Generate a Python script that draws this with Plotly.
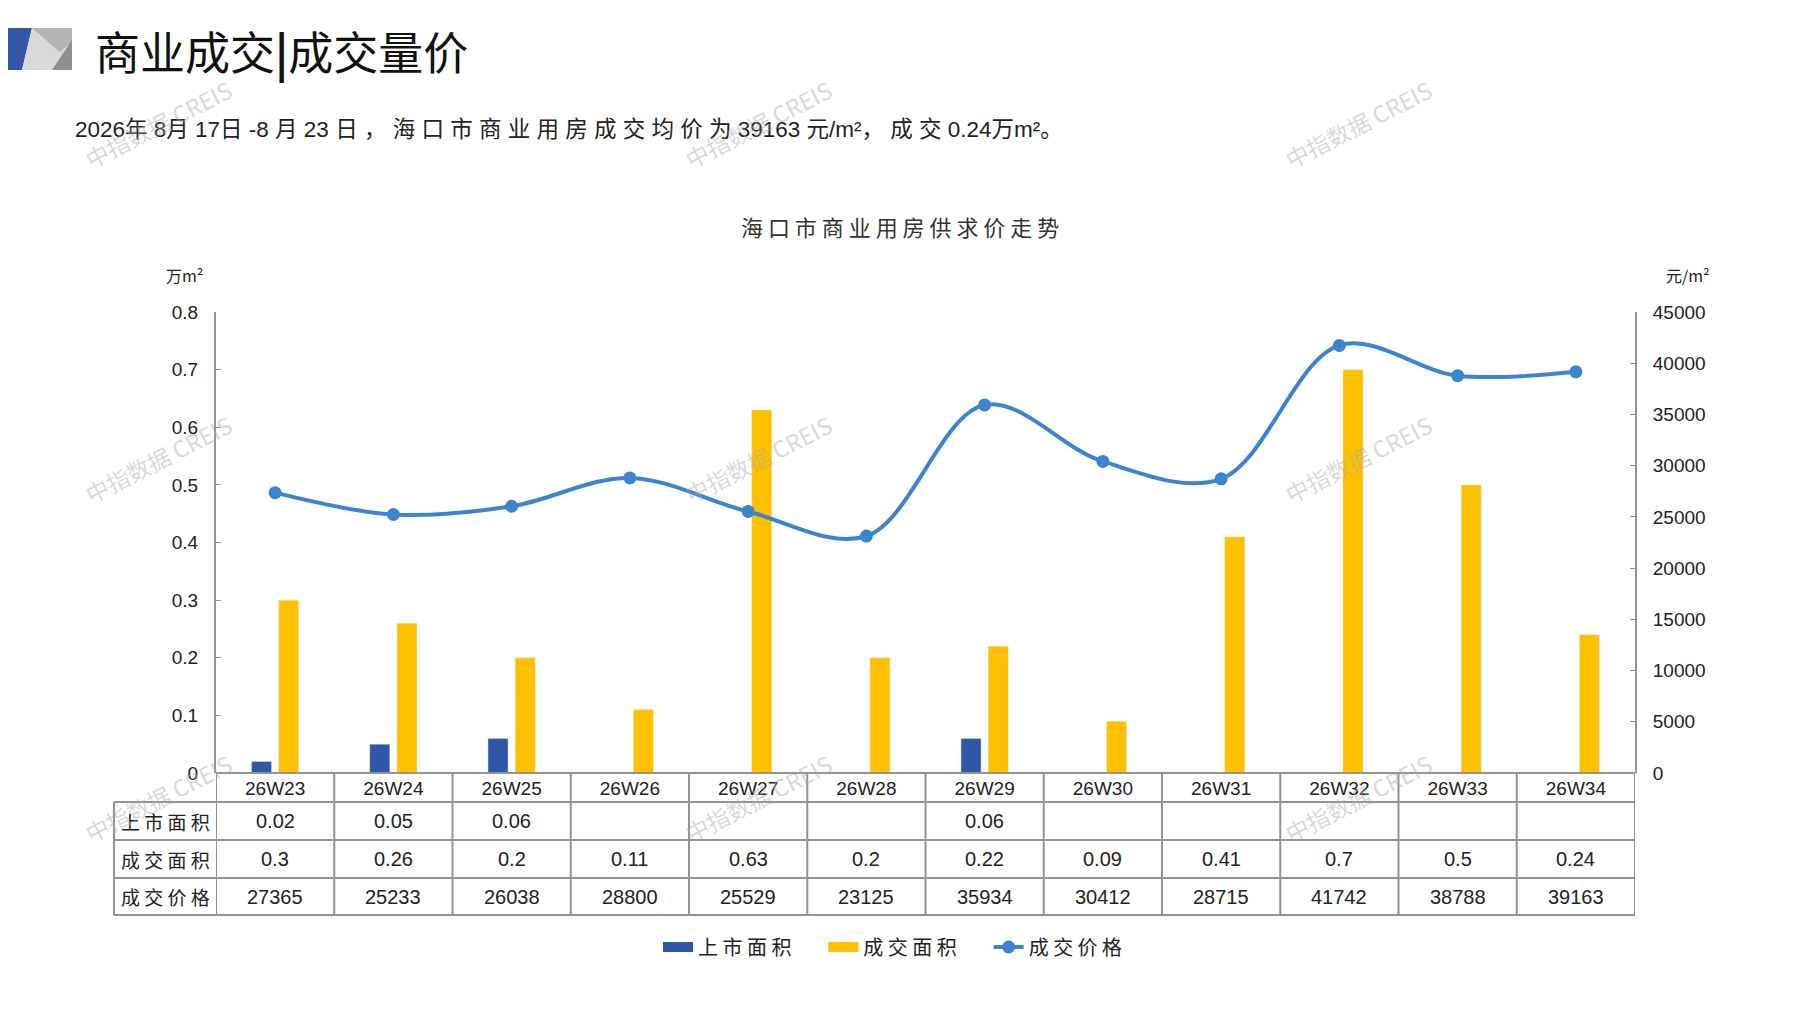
import plotly.graph_objects as go

# data
weeks = ["26W23", "26W24", "26W25", "26W26", "26W27", "26W28",
         "26W29", "26W30", "26W31", "26W32", "26W33", "26W34"]
supply_area = [0.02, 0.05, 0.06, None, None, None, 0.06, None, None, None, None, None]
deal_area = [0.3, 0.26, 0.2, 0.11, 0.63, 0.2, 0.22, 0.09, 0.41, 0.7, 0.5, 0.24]
deal_price = [27365, 25233, 26038, 28800, 25529, 23125, 35934, 30412, 28715, 41742, 38788, 39163]
row_names = ["上市面积", "成交面积", "成交价格"]
left_ticks = [0, 0.1, 0.2, 0.3, 0.4, 0.5, 0.6, 0.7, 0.8]
left_ticktext = ["0", "0.1", "0.2", "0.3", "0.4", "0.5", "0.6", "0.7", "0.8"]
right_ticks = [0, 5000, 10000, 15000, 20000, 25000, 30000, 35000, 40000, 45000]

BLUE = "#2F57A5"
YELLOW = "#FFC000"
LINE = "#3D84CF"
GRID = "#939393"
CJK = "Noto Sans CJK SC"
NUM = "Liberation Sans, Noto Sans CJK SC"

W, H = 1797, 1010
OFF = 8  # page body margin
L, R, T, B = 216 - OFF, 1797 - 1635 + OFF, 312 - OFF, 1010 - 773 + OFF
PW, PH = W - L - R, H - T - B


def px(x):
    # x measured on the screenshot -> paper
    return (x - OFF - L) / PW


def py(y):
    return (H - B - (y - OFF)) / PH


def spaced(s):
    return " ".join(s)


def note(x, y, text, size, family=CJK, color="#222", xanchor="center", **kw):
    return dict(x=px(x), y=py(y), xref="paper", yref="paper", text=text, showarrow=False,
                xanchor=xanchor, yanchor="middle",
                font=dict(family=family, size=size, color=color), **kw)


fig = go.Figure()
fig.add_trace(go.Bar(x=weeks, y=supply_area, name=spaced("上市面积"),
                     marker_color=BLUE, yaxis="y", showlegend=False))
fig.add_trace(go.Bar(x=weeks, y=deal_area, name=spaced("成交面积"),
                     marker_color=YELLOW, yaxis="y", showlegend=False))
# wide legend swatches for the bars
fig.add_trace(go.Scatter(x=[None], y=[None], mode="lines", name=spaced("上市面积") + "      ",
                         line=dict(color=BLUE, width=13)))
fig.add_trace(go.Scatter(x=[None], y=[None], mode="lines", name=spaced("成交面积") + "      ",
                         line=dict(color=YELLOW, width=13)))
fig.add_trace(go.Scatter(x=weeks, y=deal_price, name=spaced("成交价格"),
                         mode="lines+markers", yaxis="y2",
                         line=dict(color=LINE, width=4, shape="spline", smoothing=1.0),
                         marker=dict(color=LINE, size=13)))

# table under the plot
row_top = [802, 840, 878]
row_bot = [840, 878, 915]
shapes = []
for y in [802, 840, 878, 915]:
    shapes.append(dict(type="line", xref="paper", yref="paper", x0=px(114), x1=1,
                       y0=py(y), y1=py(y), line=dict(color=GRID, width=2)))
shapes.append(dict(type="line", xref="paper", yref="paper", x0=px(114), x1=px(114),
                   y0=py(802), y1=py(915), line=dict(color=GRID, width=2)))
for i in range(len(weeks) + 1):
    shapes.append(dict(type="line", xref="x", yref="paper", x0=i - 0.5, x1=i - 0.5,
                       y0=0, y1=py(915), line=dict(color=GRID, width=2)))
shapes.append(dict(type="line", xref="paper", yref="paper", x0=0, x1=1,
                   y0=0, y1=0, line=dict(color=GRID, width=2)))

# header logo
logo = [
    ([(0, 28), (32, 28), (22, 70), (0, 70)], "#3557A7"),
    ([(32, 28), (72, 28), (72, 70), (22, 70)], "#d9d9d9"),
    ([(32, 28), (72, 28), (72, 42), (60, 52)], "#b4b4b4"),
    ([(72, 40), (72, 70), (52, 70)], "#8f8f8f"),
]
for pts, col in logo:
    path = "M " + " L ".join("%.5f %.5f" % (px(a), py(b)) for a, b in pts) + " Z"
    shapes.append(dict(type="path", xref="paper", yref="paper", path=path,
                       fillcolor=col, line=dict(width=0), layer="above"))

ann = []
for r, name in enumerate(row_names):
    ann.append(note(165, (row_top[r] + row_bot[r]) / 2, spaced(name), 19))
table_rows = [supply_area, deal_area, deal_price]
for r, vals in enumerate(table_rows):
    yc = py((row_top[r] + row_bot[r]) / 2)
    for wk, v in zip(weeks, vals):
        if v is None:
            continue
        ann.append(dict(x=wk, y=yc, xref="x", yref="paper", text=str(v), showarrow=False,
                        xanchor="center", yanchor="middle",
                        font=dict(family=NUM, size=20, color="#222")))

# titles and units
ann.append(note(93, 50, "商业成交<b>|</b>成交量价", 45, color="#111", xanchor="left"))
sub = ("2026" + spaced("年") + " 8" + spaced("月") + " 17" + spaced("日") + " -8 "
       + spaced("月") + " 23 " + spaced("日，海口市商业用房成交均价为") + " 39163 "
       + spaced("元") + "/m²" + spaced("，成交") + " 0.24" + spaced("万") + "m²" + spaced("。"))
ann.append(note(73, 130, sub, 22.5, family=NUM, xanchor="left"))
ann.append(note(900, 226, spaced("海口市商业用房供求价走势"), 22, color="#333"))
ann.append(note(184, 275, "万m²", 16))
ann.append(note(1688, 275, "元/m²", 16))

# watermarks
for wy in [124, 459, 798]:
    for wx in [158, 758, 1358]:
        ann.append(note(wx, wy, "中指数据 CREIS", 23, color="rgba(170,170,170,0.45)",
                        textangle=-27))

fig.update_layout(
    width=W, height=H,
    margin=dict(l=L, r=R, t=T, b=B),
    paper_bgcolor="white", plot_bgcolor="white",
    barmode="group", bargap=0.54, bargroupgap=0.26,
    font=dict(family=NUM, color="#222"),
    xaxis=dict(type="category", range=[-0.5, 11.5], showgrid=False, ticks="",
               showline=False, tickfont=dict(family=NUM, size=19, color="#222"),
               ticklabelstandoff=2),
    yaxis=dict(range=[0, 0.8], tickvals=left_ticks, ticktext=left_ticktext,
               showgrid=False, zeroline=False, showline=True, linecolor=GRID, linewidth=2,
               ticks="inside", ticklen=5, tickcolor=GRID, ticklabelstandoff=12,
               tickfont=dict(family=NUM, size=19, color="#222")),
    yaxis2=dict(range=[0, 45000], tickvals=right_ticks, tickformat="d",
                overlaying="y", side="right",
                showgrid=False, zeroline=False, showline=True, linecolor=GRID, linewidth=2,
                ticks="inside", ticklen=5, tickcolor=GRID, ticklabelstandoff=12,
                tickfont=dict(family=NUM, size=19, color="#222")),
    legend=dict(orientation="h", x=px(893), xanchor="center", y=py(947), yanchor="middle",
                font=dict(family=CJK, size=20, color="#222"), traceorder="normal"),
    shapes=shapes,
    annotations=ann,
)

fig.write_html("out.html")
